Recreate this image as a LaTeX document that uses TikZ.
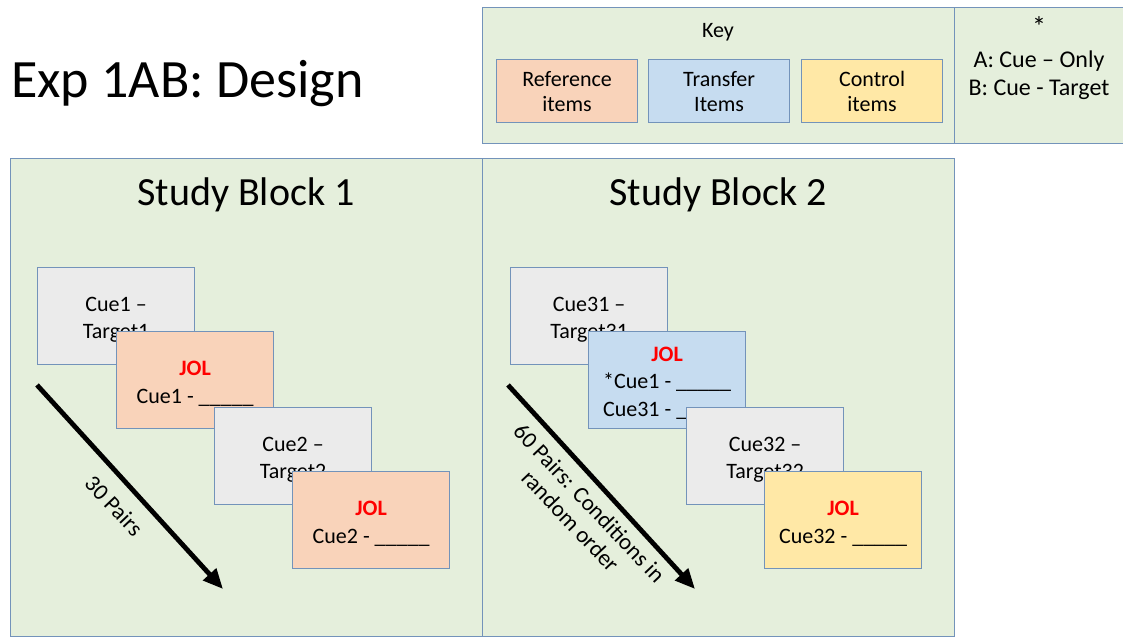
\documentclass[tikz,border=0pt]{standalone}
\usepackage{fontspec}
\setmainfont{Carlito}
\usetikzlibrary{arrows.meta}
\definecolor{panelfill}{HTML}{E5EFDC}
\definecolor{panelline}{HTML}{7393BA}
\definecolor{cardgray}{HTML}{EBEBEB}
\definecolor{cardorange}{HTML}{F9D3BA}
\definecolor{cardblue}{HTML}{C6DCF0}
\definecolor{cardyellow}{HTML}{FFE8A6}
\definecolor{jolred}{HTML}{FF0000}
\tikzset{
  panel/.style={draw=panelline, fill=panelfill, line width=1.2pt, anchor=north west, inner sep=0pt},
  card/.style={draw=panelline, line width=1.2pt, anchor=north west, minimum width=157pt, minimum height=97pt, inner sep=0pt},
  cardtext/.style={anchor=base, inner sep=0pt, align=center, font=\fontsize{22}{27.5}\selectfont},
  keybox/.style={draw=panelline, line width=1.2pt, anchor=north west, minimum width=141pt, minimum height=63pt, inner sep=0pt},
  keytext/.style={anchor=base, inner sep=0pt, align=center, font=\fontsize{22}{25.5}\selectfont},
  bigarrow/.style={line width=4.8pt, -{Triangle[length=20pt,width=17pt]}},
  rottext/.style={rotate=-46.5, font=\fontsize{23}{26}\selectfont, inner sep=0pt, align=center}
}
\newcommand{\JOL}{{\color{jolred}\bfseries JOL}}
\begin{document}
\begin{tikzpicture}[x=1pt,y=-1pt]
\path[use as bounding box, fill=white] (0,0) rectangle (1123,637);
% title
\node[anchor=base west, inner sep=0pt, font=\fontsize{54}{60}\selectfont] (title) at (11,97) {Exp 1AB: Design};
% key panel
\node[panel, minimum width=472pt, minimum height=136pt] (key) at (482,7) {};
\node[panel, minimum width=172pt, minimum height=136pt] (star) at (954,7) {};
\node[keytext] (keylbl) at (718,37) {Key};
\node[keybox, fill=cardorange] (kref) at (496,59) {};
\node[keybox, fill=cardblue] (ktra) at (648,59) {};
\node[keybox, fill=cardyellow] (kcon) at (801,59) {};
\node[keytext] (kreft) at ([yshift=-52.5pt]kref.north) {Reference\\items};
\node[keytext] (ktrat) at ([yshift=-52.5pt]ktra.north) {Transfer\\Items};
\node[keytext] (kcont) at ([yshift=-52.5pt]kcon.north) {Control\\items};
\node[anchor=base, inner sep=0pt, font=\fontsize{28}{30}\selectfont] (asterisk) at (1039,36) {*};
\node[anchor=base, font=\fontsize{24}{28}\selectfont, align=center, inner sep=0pt] (startxt) at (1039,95) {A: Cue -- Only\\B: Cue - Target};
% study panels
\node[panel, minimum width=472pt, minimum height=478pt] (sb1) at (10,158) {};
\node[panel, minimum width=472pt, minimum height=478pt] (sb2) at (482,158) {};
\node[anchor=base, font=\fontsize{40}{44}\selectfont, inner sep=0pt] (sb1t) at (246,205) {Study Block 1};
\node[anchor=base, font=\fontsize{40}{44}\selectfont, inner sep=0pt] (sb2t) at (718,205) {Study Block 2};
% block 1 cards
\node[card, fill=cardgray] (c1) at (37,267) {};
\node[cardtext] (c1t) at ([yshift=-71.5pt]c1.north) {Cue1 --\\Target1};
\node[card, fill=cardorange] (j1) at (116,331) {};
\node[cardtext] (j1t) at ([yshift=-72pt]j1.north) {\JOL\\Cue1 - \_\_\_\_\_};
\node[card, fill=cardgray] (c2) at (214,407) {};
\node[cardtext] (c2t) at ([yshift=-71.5pt]c2.north) {Cue2 --\\Target2};
\node[card, fill=cardorange] (j2) at (292,471) {};
\node[cardtext] (j2t) at ([yshift=-72pt]j2.north) {\JOL\\Cue2 - \_\_\_\_\_};
% block 2 cards
\node[card, fill=cardgray] (c31) at (510,267) {};
\node[cardtext] (c31t) at ([yshift=-71.5pt]c31.north) {Cue31 --\\Target31};
\node[card, fill=cardblue] (j31) at (588,331) {};
\node[cardtext] (j31t) at ([yshift=-85pt]j31.north) {\JOL\\*Cue1 - \_\_\_\_\_\\Cue31 - \_\_\_\_\_};
\node[card, fill=cardgray] (c32) at (686,407) {};
\node[cardtext] (c32t) at ([yshift=-71.5pt]c32.north) {Cue32 --\\Target32};
\node[card, fill=cardyellow] (j32) at (764,471) {};
\node[cardtext] (j32t) at ([yshift=-72pt]j32.north) {\JOL\\Cue32 - \_\_\_\_\_};
% arrows
\coordinate (a1s) at (37,385);
\coordinate (a1e) at (223,589);
\coordinate (a2s) at (508,385);
\coordinate (a2e) at (695,589);
\draw[bigarrow] (a1s) -- (a1e);
\draw[bigarrow] (a2s) -- (a2e);
\node[rottext] (l1) at (114,506) {30 Pairs};
\node[rottext] (l2) at (580,512) {60 Pairs: Conditions in\\random order};
\end{tikzpicture}
\end{document}
